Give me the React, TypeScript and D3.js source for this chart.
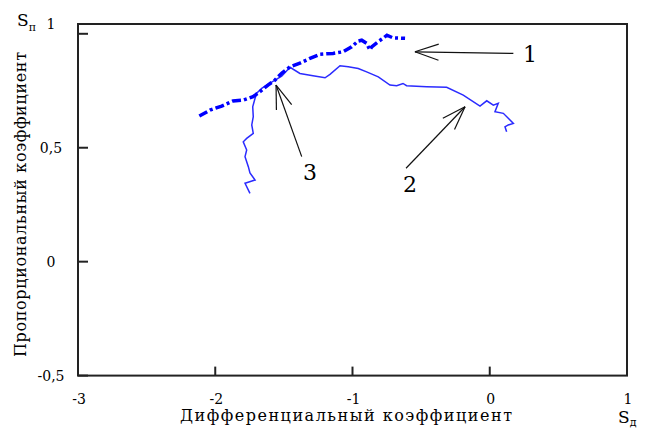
import React, { useEffect, useRef } from 'react';
import * as d3 from 'd3';

// curve 1 (thick dash-dot)
const curve1X = [-2.116, -2.038, -1.953, -1.871, -1.797, -1.725, -1.674, -1.616, -1.565, -1.514, -1.455, -1.383, -1.31, -1.237, -1.142, -1.069, -1.006, -0.96, -0.933, -0.897, -0.873, -0.86, -0.814, -0.778, -0.749, -0.705, -0.617];
const curve1Y = [0.639, 0.665, 0.683, 0.705, 0.709, 0.724, 0.746, 0.775, 0.797, 0.828, 0.855, 0.871, 0.892, 0.91, 0.914, 0.921, 0.943, 0.968, 0.972, 0.958, 0.929, 0.943, 0.965, 0.98, 0.994, 0.982, 0.98];

// curve 2/3 (thin line)
const curve2X = [-1.747, -1.783, -1.71, -1.747, -1.759, -1.783, -1.771, -1.796, -1.771, -1.723, -1.734, -1.723, -1.727, -1.71, -1.698, -1.659, -1.601, -1.516, -1.455, -1.383, -1.288, -1.2, -1.164, -1.091, -1.031, -0.958, -0.897, -0.812, -0.727, -0.678, -0.632, -0.606, -0.46, -0.314, -0.193, -0.071, -0.022, 0.026, 0.062, 0.038, 0.099, 0.135, 0.172, 0.135, 0.111, 0.123];
const curve2Y = [0.3, 0.344, 0.358, 0.389, 0.417, 0.461, 0.49, 0.526, 0.541, 0.563, 0.6, 0.636, 0.68, 0.717, 0.739, 0.762, 0.784, 0.814, 0.853, 0.826, 0.816, 0.807, 0.822, 0.86, 0.855, 0.848, 0.833, 0.811, 0.775, 0.772, 0.782, 0.772, 0.768, 0.765, 0.731, 0.683, 0.706, 0.687, 0.695, 0.658, 0.651, 0.629, 0.607, 0.6, 0.592, 0.57];

const xTicks = [-3, -2, -1, 0, 1];
const xTickLabels = ['-3', '-2', '-1', '0', '1'];
const yTicks = [-0.5, 0, 0.5, 1];
const yTickLabels = ['-0,5', '0', '0,5', '1'];

// arrows: label, tail, head, label position
const arrowLabels = ['1', '2', '3'];
const arrowTail = [[0.172, 0.914], [-0.61, 0.41], [-1.37, 0.461]];
const arrowHead = [[-0.545, 0.921], [-0.18, 0.68], [-1.557, 0.775]];
const arrowLabelPos = [[0.293, 0.911], [-0.581, 0.339], [-1.31, 0.395]];

const W = 646;
const H = 439;
const FONT = 'DejaVu Serif, Liberation Serif, serif';

const App = () => {
    const ref = useRef(null);

    useEffect(() => {
        const svg = d3.select(ref.current);
        svg.selectAll('*').remove();

        const x = d3.scaleLinear().domain([-3, 1]).range([78, 627]);
        const y = d3.scaleLinear().domain([-0.5, 1.043]).range([375.6, 24]);

        // frame
        svg.append('rect')
            .attr('x', x(-3)).attr('y', y(1.043))
            .attr('width', x(1) - x(-3)).attr('height', y(-0.5) - y(1.043))
            .attr('fill', 'none').attr('stroke', '#222').attr('stroke-width', 2);

        // y ticks
        yTicks.forEach((v, i) => {
            svg.append('line')
                .attr('x1', x(-3)).attr('x2', x(-3) + 10)
                .attr('y1', y(v)).attr('y2', y(v))
                .attr('stroke', '#222').attr('stroke-width', 2);
            const top = i === yTicks.length - 1;
            svg.append('text')
                .attr('x', 51)
                .attr('y', top ? y(1.043) + 5 : y(v) + 5)
                .attr('text-anchor', 'middle')
                .style('font-family', FONT).style('font-size', '14px')
                .text(yTickLabels[i]);
        });

        // x ticks
        xTicks.forEach((v, i) => {
            svg.append('line')
                .attr('x1', x(v)).attr('x2', x(v))
                .attr('y1', y(-0.5)).attr('y2', y(-0.5) - 9)
                .attr('stroke', '#222').attr('stroke-width', 2);
            svg.append('text')
                .attr('x', x(v) + 1)
                .attr('y', 404)
                .attr('text-anchor', 'middle')
                .style('font-family', FONT).style('font-size', '14px')
                .text(xTickLabels[i]);
        });

        // axis titles
        svg.append('text')
            .attr('x', 180).attr('y', 421)
            .style('font-family', FONT).style('font-size', '16px')
            .attr('textLength', 332).attr('lengthAdjust', 'spacing')
            .text('Дифференциальный коэффициент');

        svg.append('text')
            .attr('transform', 'translate(26,357) rotate(-90)')
            .style('font-family', FONT).style('font-size', '16px')
            .attr('textLength', 305).attr('lengthAdjust', 'spacing')
            .text('Пропорциональный коэффициент');

        const sd = svg.append('text')
            .attr('x', 618).attr('y', 423)
            .style('font-family', FONT).style('font-size', '17px');
        sd.append('tspan').text('S');
        sd.append('tspan').style('font-size', '11px').attr('dy', 3).text('д');

        const sp = svg.append('text')
            .attr('x', 17).attr('y', 26)
            .style('font-family', FONT).style('font-size', '17px');
        sp.append('tspan').text('S');
        sp.append('tspan').style('font-size', '11px').attr('dy', 5).text('п');

        // curves
        const line = d3.line().x(d => x(d[0])).y(d => y(d[1]));
        const c2 = curve2X.map((v, i) => [v, curve2Y[i]]);
        const c1 = curve1X.map((v, i) => [v, curve1Y[i]]);

        svg.append('path')
            .attr('d', line(c2))
            .attr('fill', 'none').attr('stroke', '#2b2bff').attr('stroke-width', 1.5);

        svg.append('path')
            .attr('d', line(c1))
            .attr('fill', 'none').attr('stroke', '#0000ff').attr('stroke-width', 3.5)
            .attr('stroke-dasharray', '9 3 3 3');

        // arrows
        arrowLabels.forEach((lab, i) => {
            const tx = x(arrowTail[i][0]), ty = y(arrowTail[i][1]);
            const hx = x(arrowHead[i][0]), hy = y(arrowHead[i][1]);
            svg.append('line')
                .attr('x1', tx).attr('y1', ty).attr('x2', hx).attr('y2', hy)
                .attr('stroke', '#111').attr('stroke-width', 1.2);
            const ang = Math.atan2(ty - hy, tx - hx);
            [-0.33, 0.33].forEach(da => {
                svg.append('line')
                    .attr('x1', hx).attr('y1', hy)
                    .attr('x2', hx + 25 * Math.cos(ang + da))
                    .attr('y2', hy + 25 * Math.sin(ang + da))
                    .attr('stroke', '#111').attr('stroke-width', 1.2);
            });
            svg.append('text')
                .attr('x', x(arrowLabelPos[i][0])).attr('y', y(arrowLabelPos[i][1]) + 8)
                .attr('text-anchor', 'middle')
                .style('font-family', FONT).style('font-size', '22px')
                .text(lab);
        });
    }, []);

    return (
        <svg ref={ref} width={W} height={H}
            style={{ position: 'absolute', left: 0, top: 0, background: '#fff' }} />
    );
};

export default App;
